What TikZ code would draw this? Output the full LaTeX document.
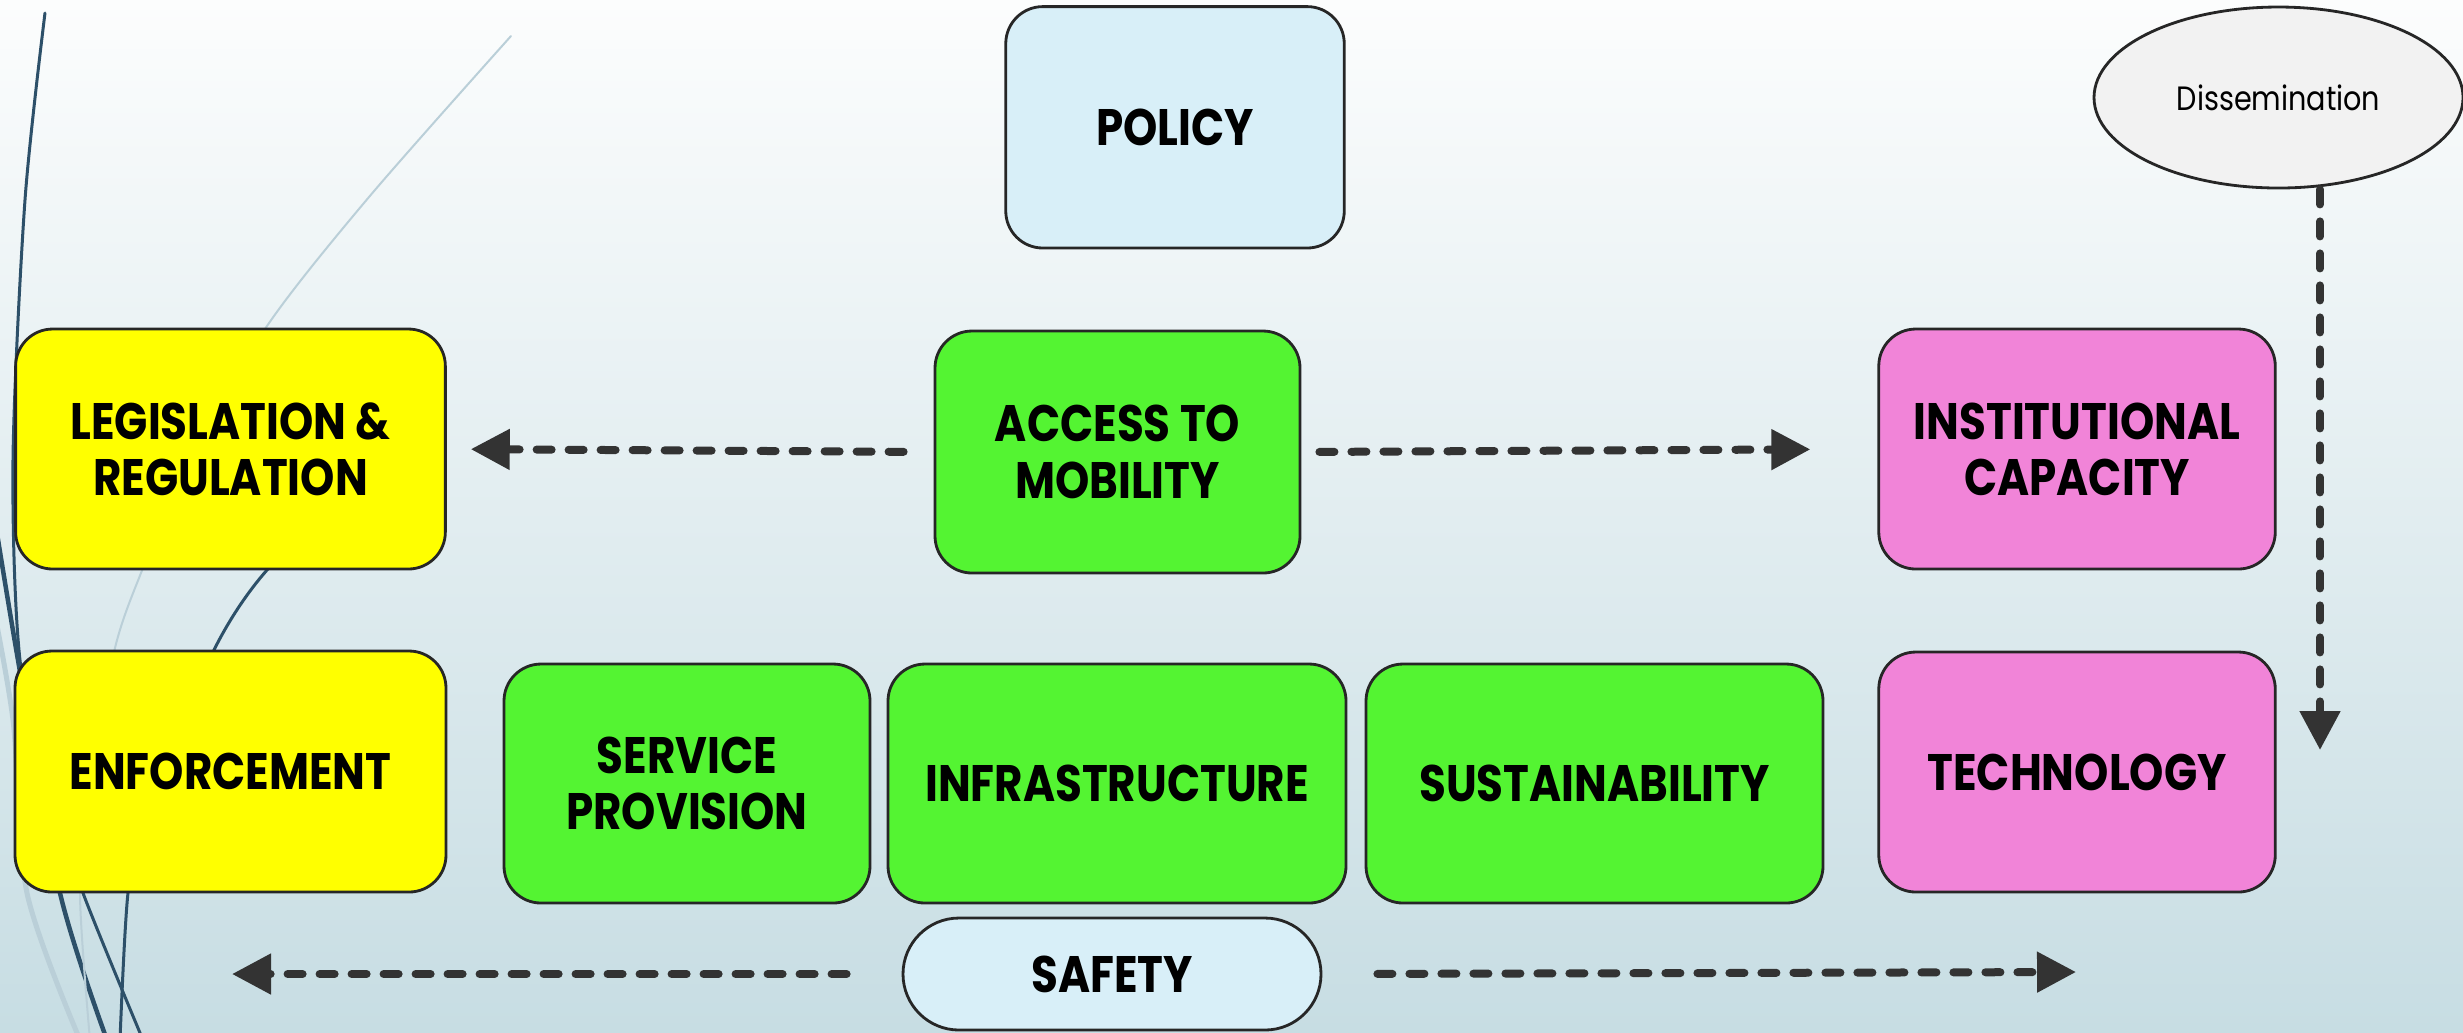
\documentclass[tikz,border=0pt]{standalone}
\usepackage{fontspec}
\newfontfamily\boxfont{Poppins}[FakeStretch=0.85]
\usepackage{tikz}
\usetikzlibrary{arrows.meta}
\usetikzlibrary{shapes.geometric}

\definecolor{bgtop}{RGB}{252,253,253}
\definecolor{bgbottom}{RGB}{199,221,227}
\definecolor{decodark}{RGB}{45,80,105}
\definecolor{decolight}{RGB}{186,207,216}
\definecolor{boxline}{RGB}{38,38,38}
\definecolor{linkgrey}{RGB}{51,51,51}
\definecolor{lawyellow}{RGB}{255,255,0}
\definecolor{mobgreen}{RGB}{84,244,50}
\definecolor{instpink}{RGB}{241,132,216}
\definecolor{palesky}{RGB}{216,239,248}
\definecolor{ovalgrey}{RGB}{242,242,242}

\begin{document}
\begin{tikzpicture}[
    box/.style={draw=boxline, line width=0.8pt, rounded corners=0.37cm,
      align=center, inner sep=0pt,
      font={\boxfont\bfseries\fontsize{14.6}{16}\selectfont}},
    link/.style={draw=linkgrey, line width=0.08cm, line cap=round,
      dash pattern=on 0.15cm off 0.17cm,
      -{Triangle[length=0.39cm,width=0.39cm,sharp]}},
    deco/.style={line cap=round}
  ]
    \useasboundingbox (0,0) rectangle (24.63,-10.32);
    \shade[top color=bgtop, bottom color=bgbottom] (0,0) rectangle (24.63,-10.32);

    \draw[deco, decodark, line width=0.03cm] plot[smooth] coordinates
      {(0.45,-0.13) (0.25,-2.0) (0.13,-4.6) (0.20,-6.6) (0.50,-7.9) (0.83,-8.93) (1.43,-10.4)};
    \draw[deco, decodark, line width=0.045cm] plot[smooth] coordinates
      {(-0.1,-4.9) (0.18,-6.6) (0.6,-8.93) (1.07,-10.4)};
    \draw[deco, decodark, line width=0.03cm] plot[smooth] coordinates
      {(3.3,-5.2) (2.67,-5.7) (2.13,-6.52) (1.45,-8.2) (1.28,-8.93) (1.20,-10.4)};
    \draw[deco, decolight, line width=0.02cm] plot[smooth] coordinates
      {(5.11,-0.36) (3.69,-1.97) (2.67,-3.26) (1.9,-4.6) (1.41,-5.73) (1.14,-6.52) (0.9,-7.9) (0.8,-8.93) (0.9,-10.4)};
    \draw[deco, decolight, line width=0.05cm] plot[smooth] coordinates
      {(-0.1,-5.9) (0.13,-7.2) (0.27,-8.93) (0.8,-10.4)};

    \node[box, fill=palesky, minimum width=3.385cm, minimum height=2.414cm]
      (policy) at (11.75,-1.273) {POLICY};
    \node[ellipse, draw=boxline, line width=0.8pt, fill=ovalgrey, inner sep=0pt,
      minimum width=3.69cm, minimum height=1.81cm,
      font={\boxfont\fontsize{9.6}{12}\selectfont}]
      (dissemination) at (22.785,-0.975) {Dissemination};

    \node[box, fill=lawyellow, minimum width=4.297cm, minimum height=2.40cm]
      (legislation) at (2.305,-4.49) {LEGISLATION \&\\REGULATION};
    \node[box, fill=mobgreen, minimum width=3.65cm, minimum height=2.42cm]
      (access) at (11.175,-4.52) {ACCESS TO\\MOBILITY};
    \node[box, fill=instpink, minimum width=3.965cm, minimum height=2.40cm]
      (institutional) at (20.77,-4.49) {INSTITUTIONAL\\CAPACITY};

    \node[box, fill=lawyellow, minimum width=4.31cm, minimum height=2.41cm]
      (enforcement) at (2.305,-7.715) {ENFORCEMENT};
    \node[box, fill=mobgreen, minimum width=3.66cm, minimum height=2.39cm]
      (service) at (6.87,-7.835) {SERVICE\\PROVISION};
    \node[box, fill=mobgreen, minimum width=4.58cm, minimum height=2.39cm]
      (infrastructure) at (11.17,-7.835) {INFRASTRUCTURE};
    \node[box, fill=mobgreen, minimum width=4.57cm, minimum height=2.39cm]
      (sustainability) at (15.945,-7.835) {SUSTAINABILITY};
    \node[box, fill=instpink, minimum width=3.965cm, minimum height=2.40cm]
      (technology) at (20.77,-7.72) {TECHNOLOGY};

    \node[box, fill=palesky, rounded corners=0.56cm, minimum width=4.18cm, minimum height=1.12cm]
      (safety) at (11.12,-9.74) {SAFETY};

    \coordinate (safetyleft) at (2.32,-9.74);
    \coordinate (safetyright) at (20.76,-9.72);
    \coordinate (disseminationend) at (23.20,-7.50);

    \draw[link, shorten <=0.30cm, shorten >=0.24cm] (access.west) -- (legislation.east);
    \draw[link, shorten <=0.18cm, shorten >=0.67cm] (access.east) -- (institutional.west);
    \draw[link, shorten <=0.55cm] (safety.west) -- (safetyleft);
    \draw[link, shorten <=0.55cm] (safety.east) -- (safetyright);
    \draw[link] (dissemination.south -| disseminationend) -- (disseminationend);
  \end{tikzpicture}
\end{document}
